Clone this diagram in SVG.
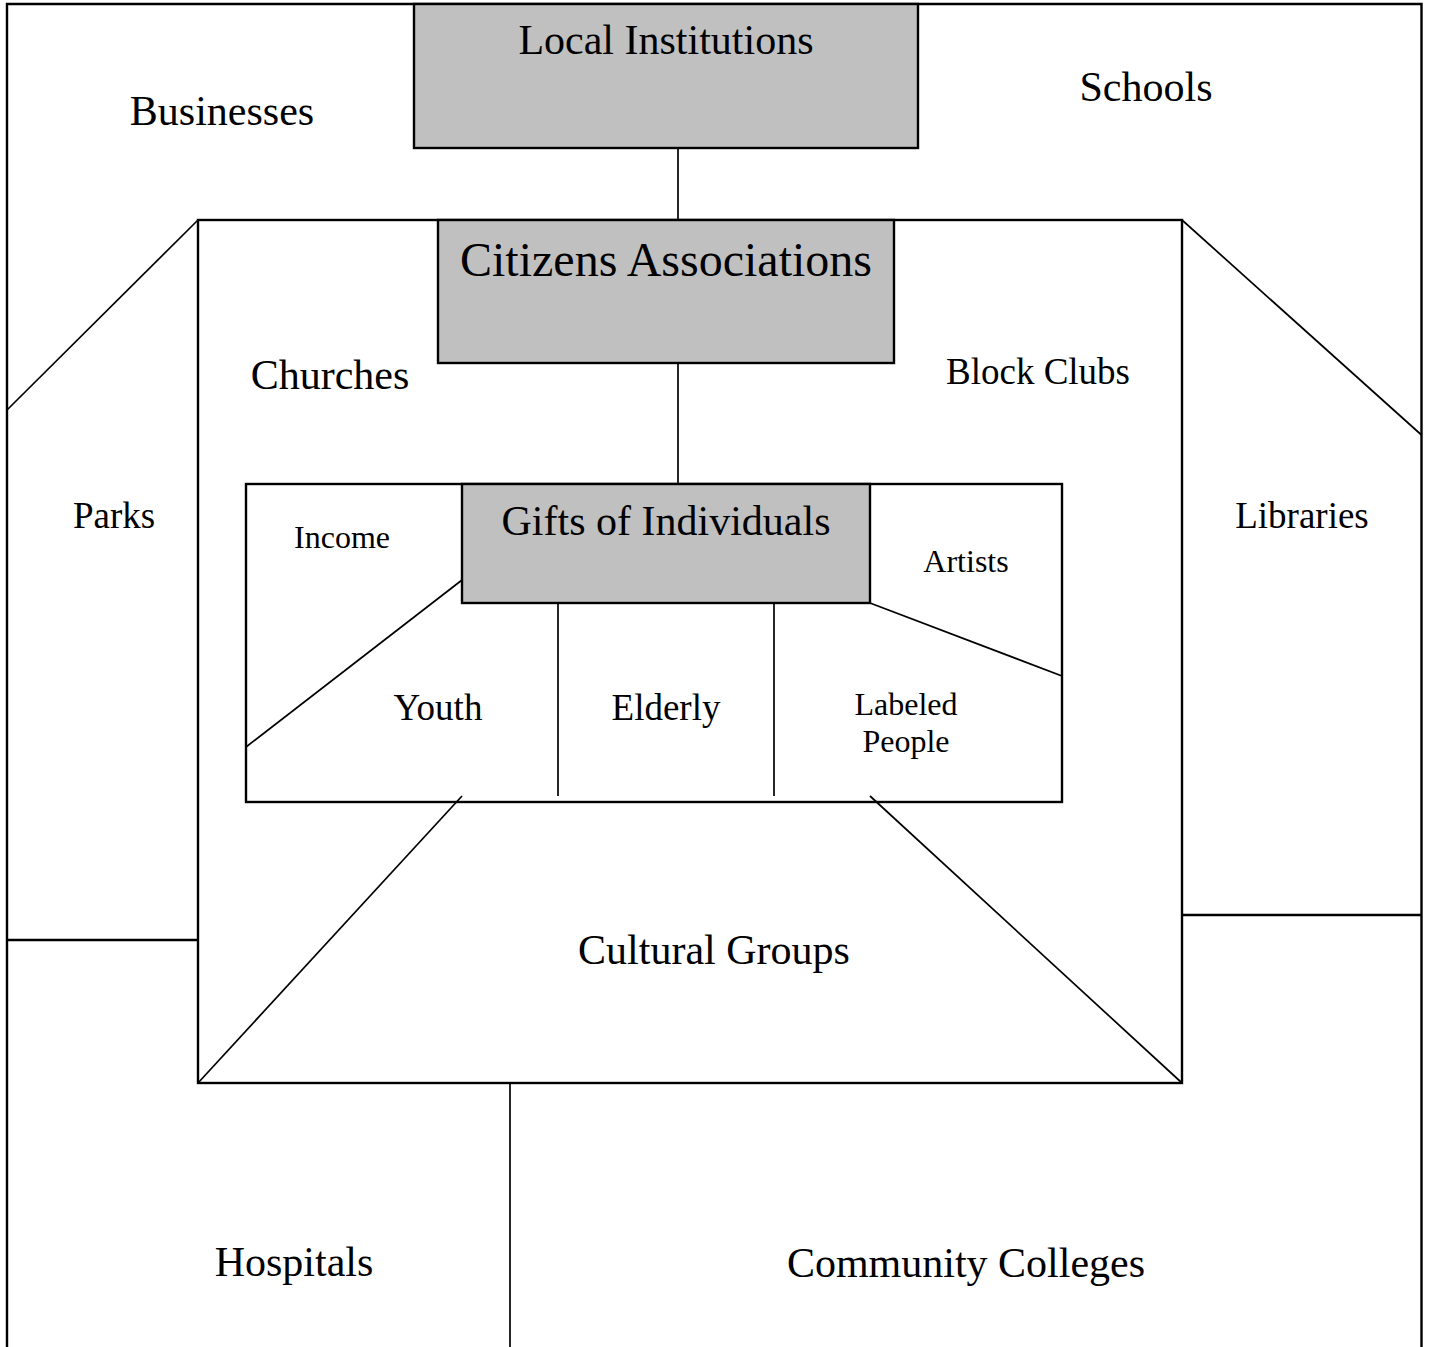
<svg xmlns="http://www.w3.org/2000/svg" width="1429" height="1347" viewBox="0 0 1429 1347">
<style>
  .bg { fill: #ffffff; }
  .frame { fill: none; stroke: #000; stroke-width: 2.4; }
  .thin { fill: none; stroke: #000; stroke-width: 1.7; }
  .box { fill: #c0c0c0; stroke: #000; stroke-width: 2.4; }
  .plain { fill: none; stroke: #000; stroke-width: 2.4; }
  text { font-family: "Liberation Serif", "Times New Roman", serif; fill: #000; text-anchor: middle; }
  .l { font-size: 42px; }
  .xl { font-size: 48px; }
  .m { font-size: 37px; }
  .s { font-size: 32px; }
</style>
<rect class="bg" x="0" y="0" width="1429" height="1347"/>

<g id="outer-frame">
  <path class="frame" d="M7,1350 V4 H1421.5 V1350"/>
</g>

<g id="businesses"><text class="l" x="222" y="125">Businesses</text></g>
<g id="schools"><text class="l" x="1146" y="101">Schools</text></g>

<g id="parks">
  <path class="thin" d="M198,220 L7,410"/>
  <path class="frame" d="M7,940 H198"/>
  <text class="m" x="114" y="528">Parks</text>
</g>

<g id="libraries">
  <path class="thin" d="M1182,220 L1421.5,435"/>
  <path class="frame" d="M1182,915 H1421.5"/>
  <text class="m" x="1302" y="528">Libraries</text>
</g>

<g id="hospitals">
  <path class="thin" d="M510,1083 V1350"/>
  <text class="l" x="294" y="1276">Hospitals</text>
</g>

<g id="community-colleges"><text class="l" x="966" y="1277">Community Colleges</text></g>

<g id="citizens-area">
  <rect class="plain" x="198" y="220" width="984" height="863"/>
  <path class="thin" d="M462,796 L198,1083"/>
  <path class="thin" d="M870,796 L1182,1083"/>
  <text class="l" x="330" y="389">Churches</text>
  <text class="m" x="1038" y="384">Block Clubs</text>
  <text class="l" x="714" y="964">Cultural Groups</text>
</g>

<g id="local-institutions">
  <rect class="box" x="414" y="4" width="504" height="144"/>
  <text class="l" x="666" y="54">Local Institutions</text>
</g>

<g id="citizens-associations">
  <rect class="box" x="438" y="220" width="456" height="143"/>
  <text class="xl" x="666" y="276">Citizens Associations</text>
</g>

<g id="gifts-area">
  <rect class="plain" x="246" y="484" width="816" height="318"/>
  <path class="thin" d="M462,580 L246,747"/>
  <path class="thin" d="M870,603 L1062,676"/>
  <path class="thin" d="M558,603 V796"/>
  <path class="thin" d="M774,603 V796"/>
  <text class="s" x="342" y="548">Income</text>
  <text class="s" x="966" y="572">Artists</text>
  <text class="m" x="438" y="720">Youth</text>
  <text class="m" x="666" y="720">Elderly</text>
  <text class="s" x="906" y="715">Labeled</text>
  <text class="s" x="906" y="752">People</text>
</g>

<g id="gifts-of-individuals">
  <rect class="box" x="462" y="484" width="408" height="119"/>
  <text class="l" x="666" y="535">Gifts of Individuals</text>
</g>

<g id="connectors">
  <path class="thin" d="M678,148 V220"/>
  <path class="thin" d="M678,363 V484"/>
</g>
</svg>
